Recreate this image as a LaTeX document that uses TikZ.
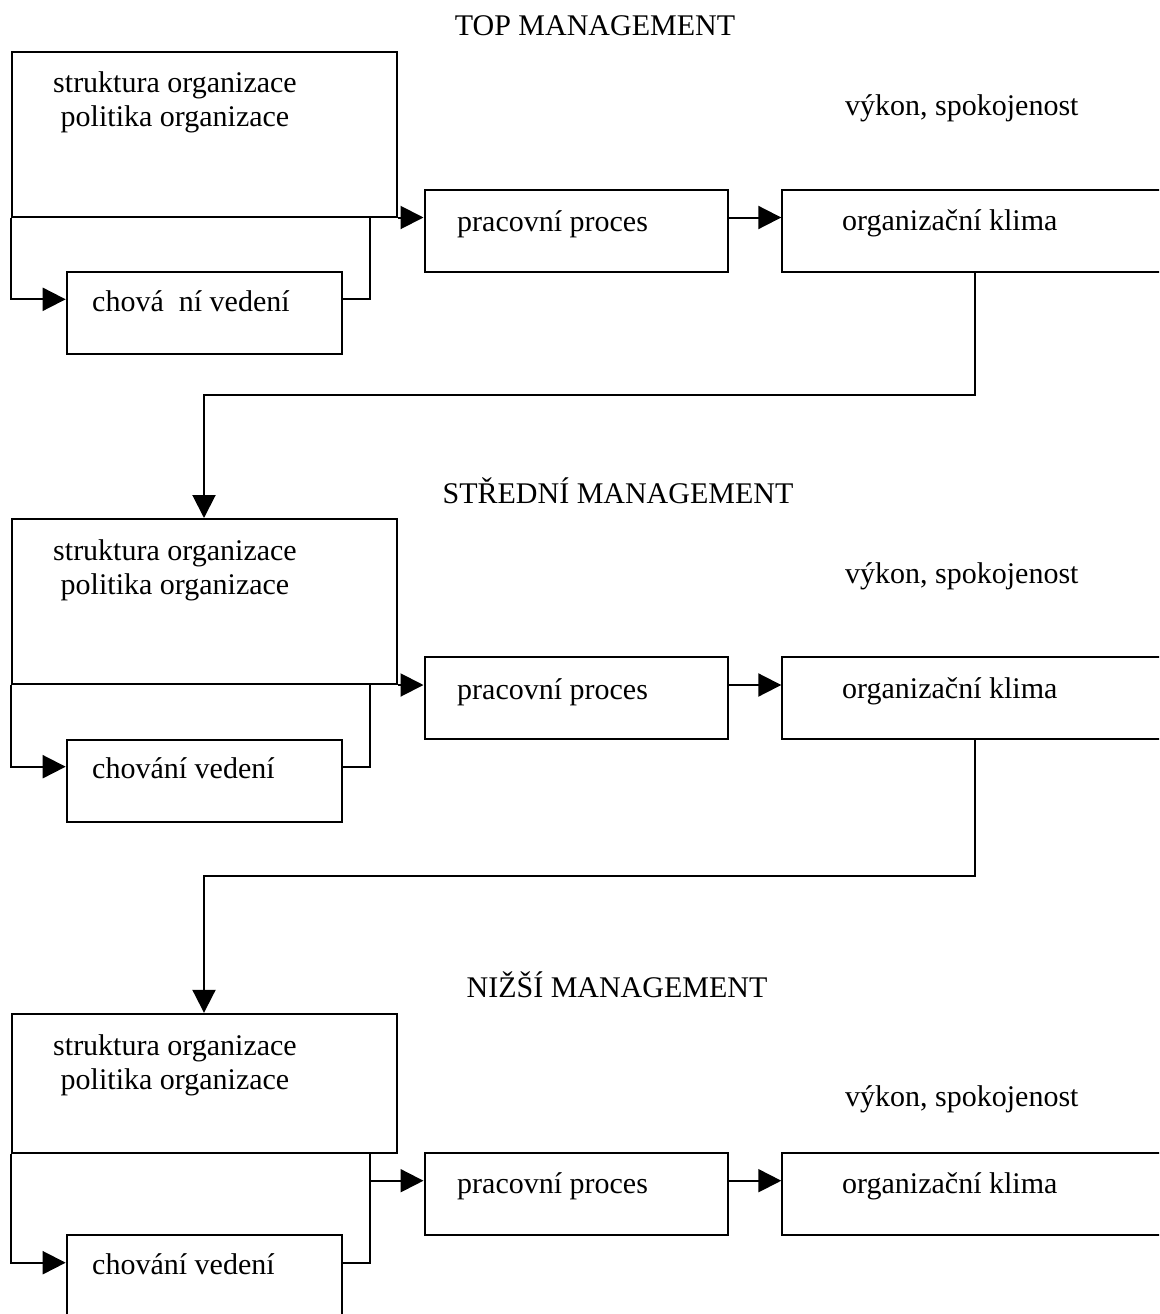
\documentclass[tikz,border=0pt]{standalone}
\usepackage{fontspec}
\setmainfont{Liberation Serif}
\usetikzlibrary{arrows.meta}

\begin{document}
\begin{tikzpicture}[
  x=1pt, y=-1pt,
  font=\fontsize{30}{34}\selectfont,
  box/.style={draw, line width=2pt, inner sep=0pt, minimum height=82pt},
  bigbox/.style={box, minimum width=385pt},
  procbox/.style={box, minimum width=303pt},
  climbox/.style={box, minimum width=386pt},
  behbox/.style={box, minimum width=275pt},
  txt/.style={inner sep=0pt, anchor=base west},
  title/.style={inner sep=0pt, anchor=base},
  stack/.style={inner sep=0pt, anchor=base, align=center},
  link/.style={line width=2pt},
  flow/.style={link, -{Triangle[length=23pt, width=23pt]}},
]
  \clip (0,0) rectangle (1159,1314);

  % top management
  \node[title] (tm) at (595,36) {TOP MANAGEMENT};
  \node[bigbox, minimum height=164pt] (s1) at (204,134.5) {};
  \node[procbox] (p1) at (576,230.5) {};
  \node[climbox] (k1) at (975.3,230.5) {};
  \node[behbox] (c1) at (204.2,312.5) {};
  \node[stack] (s1t) at (175,126) {struktura organizace\\politika organizace};
  \node[txt] (p1t) at (457,231.5) {pracovní proces};
  \node[txt] (k1t) at (842,230) {organizační klima};
  \node[txt] (c1t) at (92,311.7) {chová\ \ ní vedení};
  \node[txt] (v1) at (845,115) {výkon, spokojenost};

  % middle management
  \node[title] (sm) at (618,503) {STŘEDNÍ MANAGEMENT};
  \node[bigbox, minimum height=165pt] (s2) at (204,601.5) {};
  \node[procbox] (p2) at (576,698.3) {};
  \node[climbox] (k2) at (975.3,698.3) {};
  \node[behbox] (c2) at (204.2,780.5) {};
  \node[stack] (s2t) at (175,594) {struktura organizace\\politika organizace};
  \node[txt] (p2t) at (457,699.5) {pracovní proces};
  \node[txt] (k2t) at (842,698) {organizační klima};
  \node[txt] (c2t) at (92,778) {chování vedení};
  \node[txt] (v2) at (845,583) {výkon, spokojenost};

  % lower management
  \node[title] (lm) at (617,997) {NIŽŠÍ MANAGEMENT};
  \node[bigbox, minimum height=139pt] (s3) at (204,1083.3) {};
  \node[procbox] (p3) at (576,1194) {};
  \node[climbox] (k3) at (975.3,1194) {};
  \node[behbox] (c3) at (204.2,1276) {};
  \node[stack] (s3t) at (175,1089) {struktura organizace\\politika organizace};
  \node[txt] (p3t) at (457,1193) {pracovní proces};
  \node[txt] (k3t) at (842,1193) {organizační klima};
  \node[txt] (c3t) at (92,1274) {chování vedení};
  \node[txt] (v3) at (845,1106) {výkon, spokojenost};

  % rows and turning points of the connectors
  \coordinate (j) at (369.5,0);
  \coordinate (r1) at (0,299.3);
  \coordinate (r2) at (0,766.7);
  \coordinate (r3) at (0,1262.7);
  \coordinate (a3) at (0,1180.7);
  \coordinate (d1) at (0,395);
  \coordinate (d2) at (0,876);

  % structure feeds behaviour and the work process
  \draw[flow] (s1.south west) |- (c1.west |- r1);
  \draw[link] (c1.east |- r1) -| (s1.south -| j);
  \draw[flow] (s1.south east) -- (p1.west |- s1.south);
  \draw[flow] (p1.east |- s1.south) -- (k1.west |- s1.south);

  \draw[flow] (s2.south west) |- (c2.west |- r2);
  \draw[link] (c2.east |- r2) -| (s2.south -| j);
  \draw[flow] (s2.south east) -- (p2.west |- s2.south);
  \draw[flow] (p2.east |- s2.south) -- (k2.west |- s2.south);

  \draw[flow] (s3.south west) |- (c3.west |- r3);
  \draw[link] (c3.east |- r3) -| (s3.south -| j);
  \draw[flow] (j |- a3) -- (p3.west |- a3);
  \draw[flow] (p3.east |- a3) -- (k3.west |- a3);

  % climate passes down to the next level
  \draw[flow] (k1.south) -- (k1.south |- d1) -| (s2.north);
  \draw[flow] (k2.south) -- (k2.south |- d2) -| (s3.north);
\end{tikzpicture}
\end{document}
